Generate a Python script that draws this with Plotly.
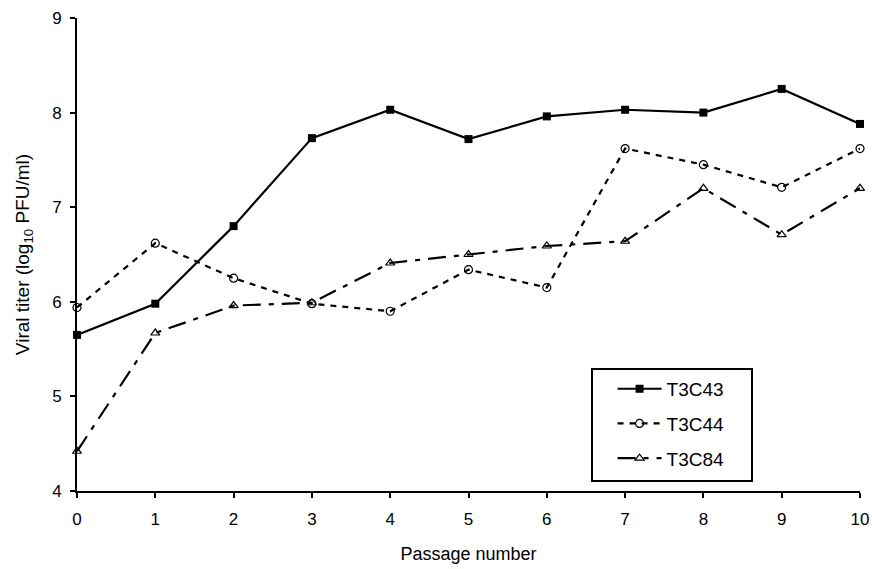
import plotly.graph_objects as go

passage = [0, 1, 2, 3, 4, 5, 6, 7, 8, 9, 10]
t3c43 = [5.65, 5.98, 6.80, 7.73, 8.03, 7.72, 7.96, 8.03, 8.00, 8.25, 7.88]
t3c44 = [5.94, 6.62, 6.25, 5.98, 5.90, 6.34, 6.15, 7.62, 7.45, 7.21, 7.62]
t3c84 = [4.42, 5.67, 5.96, 5.99, 6.41, 6.50, 6.59, 6.64, 7.20, 6.71, 7.20]

x_ticks = list(range(0, 11))
y_ticks = [4, 5, 6, 7, 8, 9]

FONT = "Liberation Sans, Arial, sans-serif"

fig = go.Figure()
fig.add_trace(go.Scatter(
    x=passage, y=t3c43, name="T3C43", mode="lines+markers",
    line=dict(color="black", width=2.2, dash="solid"),
    marker=dict(symbol="square", size=8, color="black"),
    cliponaxis=False, legendgroup="a"))
fig.add_trace(go.Scatter(
    x=passage, y=t3c44, name="T3C44", mode="lines+markers",
    line=dict(color="black", width=2.2, dash="6px,6px"),
    marker=dict(symbol="circle-open", size=8, color="black", line=dict(width=1.2)),
    cliponaxis=False, legendgroup="b"))
fig.add_trace(go.Scatter(
    x=passage, y=t3c84, name="T3C84", mode="lines+markers",
    line=dict(color="black", width=2.2, dash="18px,8px,5px,8px"),
    marker=dict(symbol="triangle-up-open", size=8, color="black", line=dict(width=1.2)),
    cliponaxis=False, legendgroup="c"))

fig.update_layout(
    width=872, height=569,
    margin=dict(l=77, r=12, t=18, b=78),
    paper_bgcolor="white", plot_bgcolor="white",
    font=dict(family=FONT, size=17, color="black"),
    showlegend=True,
    legend=dict(x=0.684, y=0.256, xanchor="left", yanchor="top",
                bgcolor="rgba(0,0,0,0)", borderwidth=0,
                font=dict(size=19), tracegroupgap=7, itemwidth=44),
    xaxis=dict(range=[0, 10], tickvals=x_ticks, showline=True, linecolor="black",
               linewidth=2, ticks="outside", ticklen=5, tickwidth=2, tickcolor="black",
               showgrid=False, zeroline=False, automargin=False,
               tickfont=dict(size=17), ticklabelstandoff=7,
               title=dict(text="Passage number", font=dict(size=18), standoff=19)),
    yaxis=dict(range=[4, 9], tickvals=y_ticks, showline=True, linecolor="black",
               linewidth=2, ticks="outside", ticklen=5, tickwidth=2, tickcolor="black",
               showgrid=False, zeroline=False, automargin=False,
               tickfont=dict(size=17), ticklabelstandoff=5,
               title=dict(text="Viral titer (log<sub>10</sub> PFU/ml)", font=dict(size=19), standoff=17)),
)

fig.add_shape(type="rect", xref="paper", yref="paper",
              x0=(592 - 77) / 783, x1=(752 - 77) / 783,
              y0=(491 - 481) / 473, y1=(491 - 369) / 473,
              line=dict(color="black", width=2), fillcolor="rgba(0,0,0,0)", layer="below")

fig.write_html("out.html", config={"displayModeBar": False},
               post_script="document.body.style.margin='0';document.body.style.overflow='hidden';")
